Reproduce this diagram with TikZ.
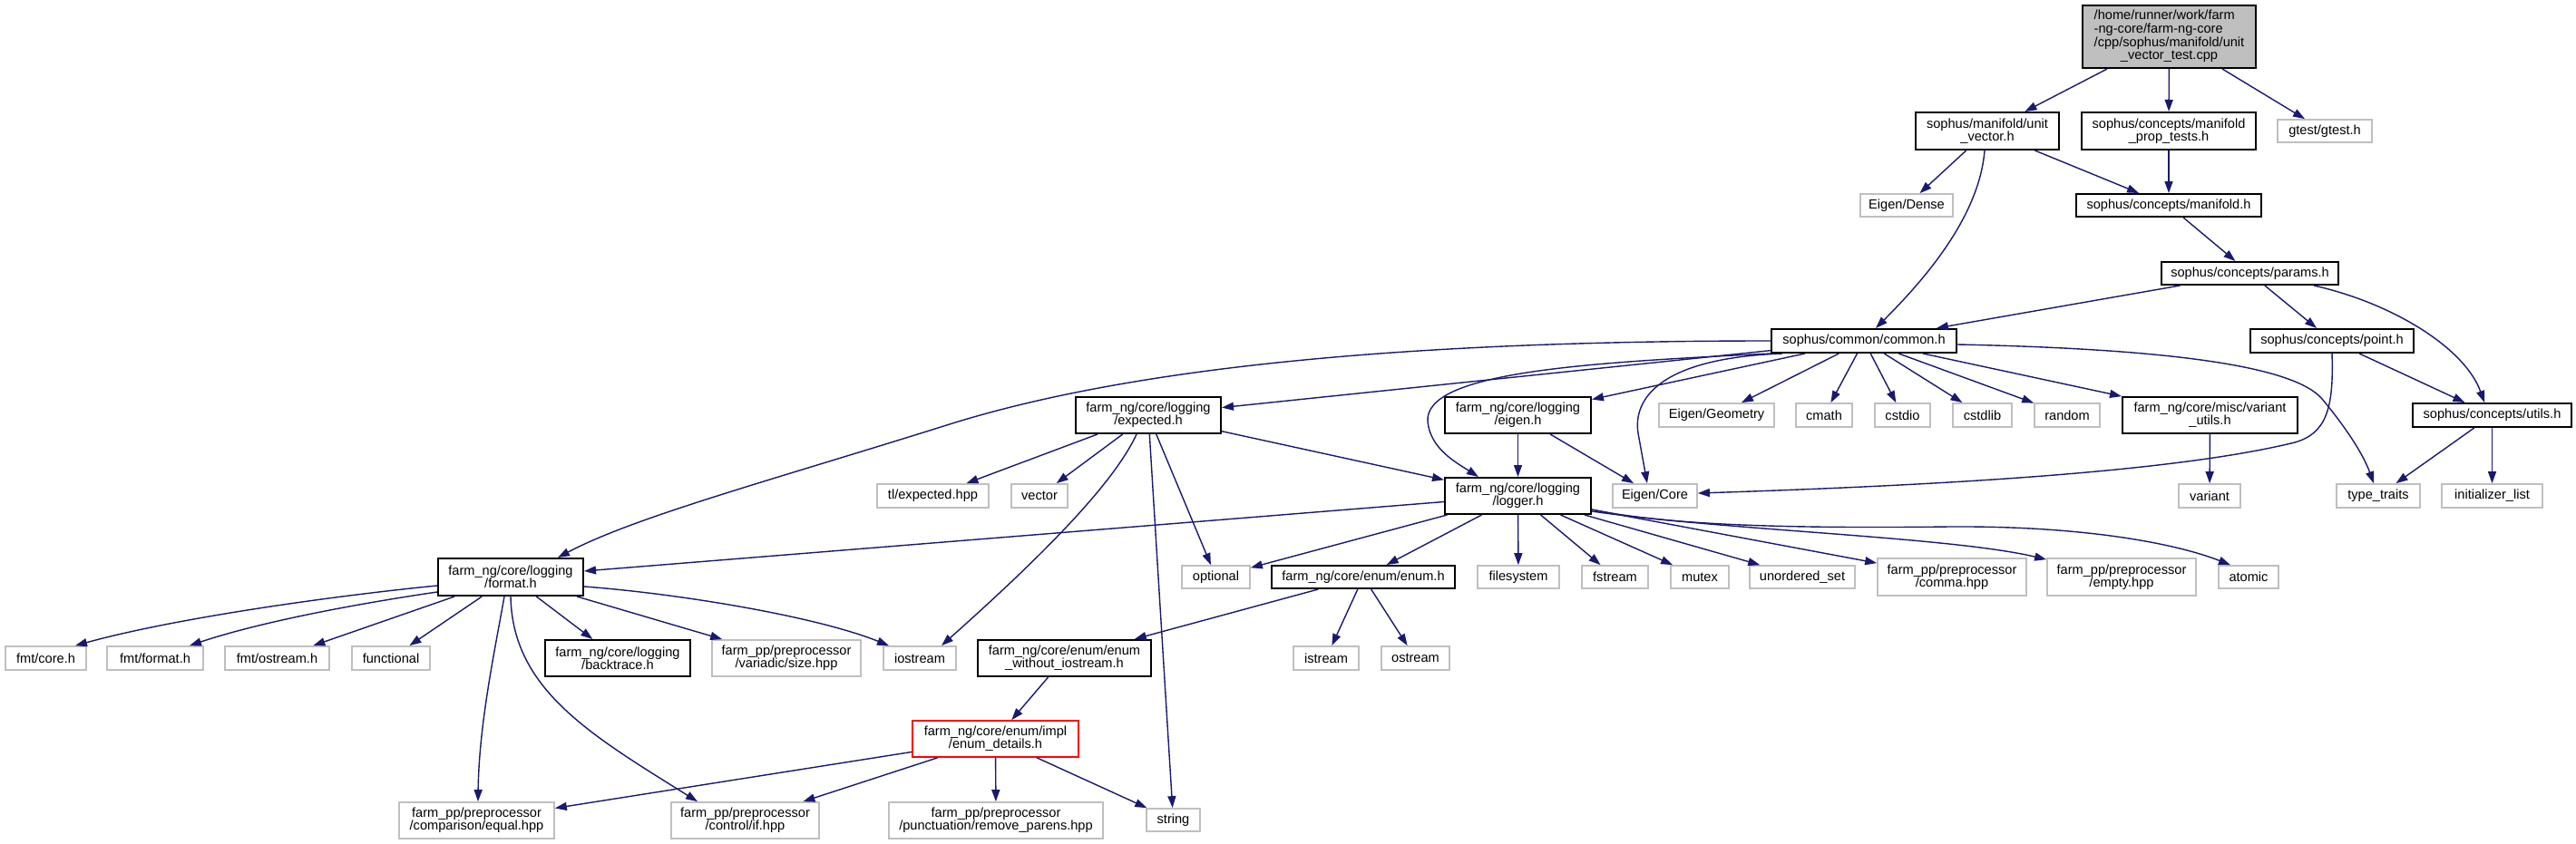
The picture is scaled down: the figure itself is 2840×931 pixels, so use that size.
\documentclass[tikz,border=0pt]{standalone}
\usepackage{fontspec}
\setmainfont{Liberation Sans}
\usetikzlibrary{arrows.meta}
\definecolor{edgeblue}{HTML}{191970}
\definecolor{extgray}{HTML}{BFBFBF}
\definecolor{rootfill}{HTML}{BFBFBF}
\tikzset{
  nbase/.style={rectangle, inner sep=0pt, font=\fontsize{14.6}{14}\selectfont, align=center},
  doc/.style={nbase, draw=black, fill=white, line width=2pt},
  ext/.style={nbase, draw=extgray, fill=white, line width=1.7pt},
  bad/.style={nbase, draw=red, fill=white, line width=1.7pt},
  rootnode/.style={nbase, draw=black, fill=rootfill, line width=2pt},
  dep/.style={draw=edgeblue, line width=1.4pt, -{Triangle[length=13pt,width=9pt]}},
}
\begin{document}
\begin{tikzpicture}[x=1pt,y=-1pt]
\fill[white] (0,0) rectangle (2840,931);
\useasboundingbox (0,0) rectangle (2840,931);
% row 0
\node[rootnode, minimum width=191pt, minimum height=69pt] (root) at (2391.5,40.5)
  {\begin{tabular}{@{}l@{}}/home/runner/work/farm\\-ng-core/farm-ng-core\\/cpp/sophus/manifold/unit\\\multicolumn{1}{@{}c@{}}{\_vector\_test.cpp}\end{tabular}};
% row 1
\node[doc, minimum width=158pt, minimum height=41pt] (uv) at (2191,144.5) {sophus/manifold/unit\\\_vector.h};
\node[doc, minimum width=192pt, minimum height=41pt] (pt) at (2391,144.5) {sophus/concepts/manifold\\\_prop\_tests.h};
\node[ext, minimum width=104pt, minimum height=25pt] (gtest) at (2563,144.5) {gtest/gtest.h};
% row 2
\node[ext, minimum width=102pt, minimum height=25pt] (dense) at (2102,226.5) {Eigen/Dense};
\node[doc, minimum width=204pt, minimum height=25pt] (manifold) at (2391,226.5) {sophus/concepts/manifold.h};
% row 3
\node[doc, minimum width=195pt, minimum height=25pt] (params) at (2480.5,301.5) {sophus/concepts/params.h};
% row 4
\node[doc, minimum width=204pt, minimum height=26pt] (common) at (2055,376) {sophus/common/common.h};
\node[doc, minimum width=180pt, minimum height=26pt] (point) at (2571,376) {sophus/concepts/point.h};
% row 5
\node[doc, minimum width=175pt, minimum height=26pt] (utils) at (2747.5,458) {sophus/concepts/utils.h};
\node[doc, minimum width=193pt, minimum height=40pt] (varutils) at (2436.5,458) {farm\_ng/core/misc/variant\\\_utils.h};
\node[ext, minimum width=72pt, minimum height=26pt] (random) at (2279,458) {random};
\node[ext, minimum width=65pt, minimum height=26pt] (cstdlib) at (2185.5,458) {cstdlib};
\node[ext, minimum width=61pt, minimum height=26pt] (cstdio) at (2097.5,458) {cstdio};
\node[ext, minimum width=62pt, minimum height=26pt] (cmath) at (2011,458) {cmath};
\node[ext, minimum width=127pt, minimum height=26pt] (geometry) at (1892.5,458) {Eigen/Geometry};
\node[doc, minimum width=161pt, minimum height=40pt] (eigenh) at (1673.5,458) {farm\_ng/core/logging\\/eigen.h};
\node[doc, minimum width=160pt, minimum height=40pt] (expected) at (1266,458) {farm\_ng/core/logging\\/expected.h};
% row 6
\node[doc, minimum width=161pt, minimum height=40pt] (logger) at (1673.5,547) {farm\_ng/core/logging\\/logger.h};
\node[ext, minimum width=93pt, minimum height=26pt] (core) at (1824.5,547) {Eigen/Core};
\node[ext, minimum width=123pt, minimum height=26pt] (tlexp) at (1028.5,547) {tl/expected.hpp};
\node[ext, minimum width=62pt, minimum height=26pt] (vector) at (1146,547) {vector};
\node[ext, minimum width=68pt, minimum height=26pt] (variant) at (2436,547) {variant};
\node[ext, minimum width=92pt, minimum height=26pt] (typetraits) at (2622,547) {type\_traits};
\node[ext, minimum width=111pt, minimum height=26pt] (initlist) at (2747.5,547) {initializer\_list};
% row 7
\node[doc, minimum width=160pt, minimum height=41pt] (format) at (563,636.5) {farm\_ng/core/logging\\/format.h};
\node[ext, minimum width=75pt, minimum height=25pt] (optional) at (1340.5,636.5) {optional};
\node[doc, minimum width=202pt, minimum height=25pt] (enumh) at (1503,636.5) {farm\_ng/core/enum/enum.h};
\node[ext, minimum width=90pt, minimum height=25pt] (filesystem) at (1674,636.5) {filesystem};
\node[ext, minimum width=73pt, minimum height=25pt] (fstream) at (1780.5,636.5) {fstream};
\node[ext, minimum width=64pt, minimum height=25pt] (mutex) at (1874,636.5) {mutex};
\node[ext, minimum width=116pt, minimum height=25pt] (uset) at (1987,636.5) {unordered\_set};
\node[ext, minimum width=164pt, minimum height=41pt] (comma) at (2152,636.5) {farm\_pp/preprocessor\\/comma.hpp};
\node[ext, minimum width=164pt, minimum height=41pt] (empty) at (2339,636.5) {farm\_pp/preprocessor\\/empty.hpp};
\node[ext, minimum width=66pt, minimum height=25pt] (atomic) at (2479,636.5) {atomic};
% row 8
\node[ext, minimum width=89pt, minimum height=26pt] (fmtcore) at (50.5,726) {fmt/core.h};
\node[ext, minimum width=106pt, minimum height=26pt] (fmtformat) at (171,726) {fmt/format.h};
\node[ext, minimum width=115pt, minimum height=26pt] (fmtostream) at (305.5,726) {fmt/ostream.h};
\node[ext, minimum width=86pt, minimum height=26pt] (functional) at (431,726) {functional};
\node[doc, minimum width=160pt, minimum height=40pt] (backtrace) at (681,726) {farm\_ng/core/logging\\/backtrace.h};
\node[ext, minimum width=164pt, minimum height=40pt] (varsize) at (867,726) {farm\_pp/preprocessor\\/variadic/size.hpp};
\node[ext, minimum width=80pt, minimum height=26pt] (iostream) at (1014,726) {iostream};
\node[doc, minimum width=191pt, minimum height=40pt] (enumwo) at (1173.5,726) {farm\_ng/core/enum/enum\\\_without\_iostream.h};
\node[ext, minimum width=72pt, minimum height=26pt] (istream) at (1462,726) {istream};
\node[ext, minimum width=75pt, minimum height=26pt] (ostream) at (1560.5,726) {ostream};
% row 9
\node[bad, minimum width=183pt, minimum height=40pt] (details) at (1097.5,815) {farm\_ng/core/enum/impl\\/enum\_details.h};
% row 10
\node[ext, minimum width=171pt, minimum height=40pt] (equal) at (525.5,905) {farm\_pp/preprocessor\\/comparison/equal.hpp};
\node[ext, minimum width=163pt, minimum height=40pt] (ifhpp) at (821.5,905) {farm\_pp/preprocessor\\/control/if.hpp};
\node[ext, minimum width=236pt, minimum height=40pt] (remparens) at (1098,905) {farm\_pp/preprocessor\\/punctuation/remove\_parens.hpp};
\node[ext, minimum width=59pt, minimum height=25pt] (string) at (1293.5,904.5) {string};

% edges
\draw[dep] (root) -- (uv);
\draw[dep] (root) -- (pt);
\draw[dep] (root) -- (gtest);
\draw[dep] (uv) -- (dense);
\draw[dep] (uv) -- (manifold);
\draw[dep] ([xshift=-3pt]uv.south) .. controls (2182,240) and (2120,310) .. ([xshift=13pt]common.north);
\draw[dep] (pt) -- (manifold);
\draw[dep] (manifold) -- (params);
\draw[dep] (params) -- (common);
\draw[dep] (params) -- (point);
\draw[dep] ([xshift=70.5pt]params.south) .. controls (2640,335) and (2718,385) .. ([xshift=-8.5pt]utils.north);
\draw[dep] (point.south) .. controls (2573,450) and (2565,478) .. (2530,488) .. controls (2400,520) and (2150,535) .. ([yshift=3pt]core.east);
\draw[dep] (point) -- (utils);
\draw[dep] (utils) -- (typetraits);
\draw[dep] (utils) -- (initlist);
\draw[dep] ([yshift=-4pt]common.east) .. controls (2400,385) and (2530,405) .. (2560,440) .. controls (2585,470) and (2605,500) .. ([xshift=-5pt]typetraits.north);
\draw[dep] (varutils) -- (variant);
\draw[dep] (common) -- (eigenh);
\draw[dep] (common) -- (geometry);
\draw[dep] (common) -- (cmath);
\draw[dep] (common) -- (cstdio);
\draw[dep] (common) -- (cstdlib);
\draw[dep] (common) -- (random);
\draw[dep] (common) -- (varutils);
\draw[dep] ([xshift=-90pt]common.south) .. controls (1830,395) and (1800,440) .. (1806,478) -- ([xshift=-8.5pt]core.north);
\draw[dep] (common.south west) .. controls (1750,400) and (1570,410) .. (1574,465) .. controls (1577,495) and (1605,510) .. ([xshift=-43.5pt]logger.north);
\draw[dep] (common.west) .. controls (1550,376) and (1250,405) .. (1050,467) .. controls (850,530) and (700,570) .. ([xshift=52pt]format.north);
\draw[dep] (common) -- (expected);
\draw[dep] (expected) -- (tlexp);
\draw[dep] (expected) -- (vector);
\draw[dep] (expected) -- (string);
\draw[dep] (expected) -- (optional);
\draw[dep] (expected) -- (logger);
\draw[dep] ([xshift=-13pt]expected.south) .. controls (1225,540) and (1130,630) .. ([xshift=24pt]iostream.north);
\draw[dep] (eigenh) -- (logger);
\draw[dep] (eigenh) -- (core);
\draw[dep] (logger) -- (format);
\draw[dep] (logger) -- (optional);
\draw[dep] (logger) -- (enumh);
\draw[dep] (logger) -- (filesystem);
\draw[dep] (logger) -- (fstream);
\draw[dep] (logger) -- (mutex);
\draw[dep] (logger) -- (uset);
\draw[dep] (logger) -- (comma);
\draw[dep] ([yshift=-17pt]logger.east) .. controls (1900,585) and (2150,592) .. ([yshift=-2pt]empty.north west);
\draw[dep] ([yshift=-15pt]logger.east) .. controls (1840,580) and (1980,583) .. (2150,581) .. controls (2300,580) and (2400,600) .. ([xshift=-20pt]atomic.north);
\draw[dep] (enumh) -- (istream);
\draw[dep] (enumh) -- (ostream);
\draw[dep] (enumh) -- (enumwo);
\draw[dep] (enumwo) -- (details);
\draw[dep] (details) -- (equal);
\draw[dep] (details) -- (ifhpp);
\draw[dep] (details) -- (remparens);
\draw[dep] (details) -- (string);
\draw[dep] ([yshift=-9.5pt]format.west) .. controls (380,656) and (200,680) .. ([xshift=32.5pt]fmtcore.north);
\draw[dep] ([yshift=-16.5pt]format.west) .. controls (400,665) and (290,685) .. ([xshift=38pt]fmtformat.north);
\draw[dep] (format) -- (fmtostream);
\draw[dep] (format) -- (functional);
\draw[dep] (format) -- (backtrace);
\draw[dep] (format) -- (varsize);
\draw[dep] ([yshift=-10.5pt]format.east) .. controls (750,655) and (900,680) .. ([xshift=-34pt]iostream.north);
\draw[dep] ([xshift=-7pt]format.south) .. controls (545,720) and (528,800) .. ([xshift=1.5pt]equal.north);
\draw[dep] (format.south) .. controls (565,760) and (650,810) .. ([xshift=-52.5pt]ifhpp.north);
\end{tikzpicture}
\end{document}
